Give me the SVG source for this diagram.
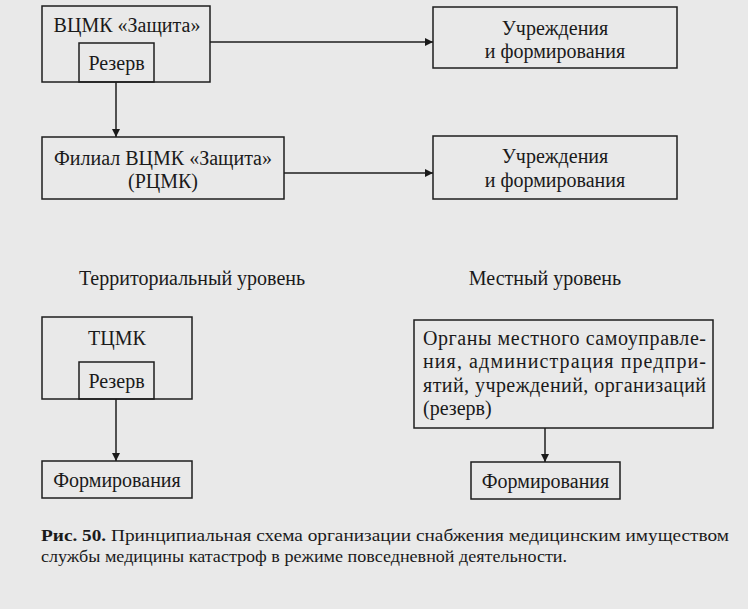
<svg xmlns="http://www.w3.org/2000/svg" width="748" height="609" viewBox="0 0 748 609" font-family="Liberation Serif, Times New Roman, DejaVu Serif, serif">
<defs>
<style>
.box{fill:none;stroke:#1e1e1e;stroke-width:1.5}
.t{font-size:20px;fill:#1a1a1a}
.c{text-anchor:middle}
.cap{font-size:16px;fill:#1a1a1a}
.ln{stroke:#1e1e1e;stroke-width:1.5;fill:none}
</style>
<marker id="ah" viewBox="0 0 10 10" refX="10" refY="5" markerWidth="8" markerHeight="8" markerUnits="userSpaceOnUse" orient="auto">
<path d="M0,0 L10,5 L0,10 Z" fill="#1a1a1a"/>
</marker>
</defs>
<rect width="748" height="609" fill="#e9e9e9"/>

<g id="vcmk">
<rect class="box" x="42" y="6" width="168" height="76"/>
<text class="t c" x="127" y="32">ВЦМК «Защита»</text>
</g>
<g id="vcmk-rezerv">
<rect class="box" x="79" y="43" width="75" height="39"/>
<text class="t c" x="116.5" y="70">Резерв</text>
</g>
<g id="uchr1">
<rect class="box" x="433" y="7" width="244" height="61"/>
<text class="t c" x="555" y="35">Учреждения</text>
<text class="t c" x="555" y="58">и формирования</text>
</g>
<g id="filial">
<rect class="box" x="42" y="137" width="242" height="62"/>
<text class="t c" x="163" y="165">Филиал ВЦМК «Защита»</text>
<text class="t c" x="163" y="188">(РЦМК)</text>
</g>
<g id="uchr2">
<rect class="box" x="433" y="136" width="244" height="63"/>
<text class="t c" x="555" y="163">Учреждения</text>
<text class="t c" x="555" y="187">и формирования</text>
</g>
<g id="lbl-terr">
<text class="t c" x="192" y="285">Территориальный уровень</text>
</g>
<g id="lbl-mest">
<text class="t c" x="545" y="285">Местный уровень</text>
</g>
<g id="tcmk">
<rect class="box" x="42" y="317" width="150" height="82"/>
<text class="t c" x="117" y="345">ТЦМК</text>
</g>
<g id="tcmk-rezerv">
<rect class="box" x="79" y="362" width="75" height="37"/>
<text class="t c" x="116.5" y="388">Резерв</text>
</g>
<g id="form1">
<rect class="box" x="42" y="461" width="150" height="37"/>
<text class="t c" x="117" y="487">Формирования</text>
</g>
<g id="organy">
<rect class="box" x="414" y="320" width="299" height="108"/>
<text class="t" x="423" y="345" textLength="283" lengthAdjust="spacing">Органы местного самоуправле-</text>
<text class="t" x="423" y="368" textLength="283" lengthAdjust="spacing">ния, администрация предпри-</text>
<text class="t" x="423" y="392" textLength="283" lengthAdjust="spacing">ятий, учреждений, организаций</text>
<text class="t" x="423" y="415">(резерв)</text>
</g>
<g id="form2">
<rect class="box" x="471" y="462" width="149" height="37"/>
<text class="t c" x="545.5" y="488">Формирования</text>
</g>

<g id="connectors">
<line class="ln" x1="116" y1="82" x2="116" y2="137" marker-end="url(#ah)"/>
<line class="ln" x1="210" y1="42" x2="433" y2="42" marker-end="url(#ah)"/>
<line class="ln" x1="284" y1="173" x2="433" y2="173" marker-end="url(#ah)"/>
<line class="ln" x1="116" y1="399" x2="116" y2="461" marker-end="url(#ah)"/>
<line class="ln" x1="545" y1="428" x2="545" y2="462" marker-end="url(#ah)"/>
</g>

<g id="caption">
<text class="cap" x="41" y="541" textLength="688" lengthAdjust="spacingAndGlyphs"><tspan font-weight="bold">Рис. 50.</tspan> Принципиальная схема организации снабжения медицинским имуществом</text>
<text class="cap" x="41" y="562" textLength="526" lengthAdjust="spacingAndGlyphs">службы медицины катастроф в режиме повседневной деятельности.</text>
</g>
</svg>
